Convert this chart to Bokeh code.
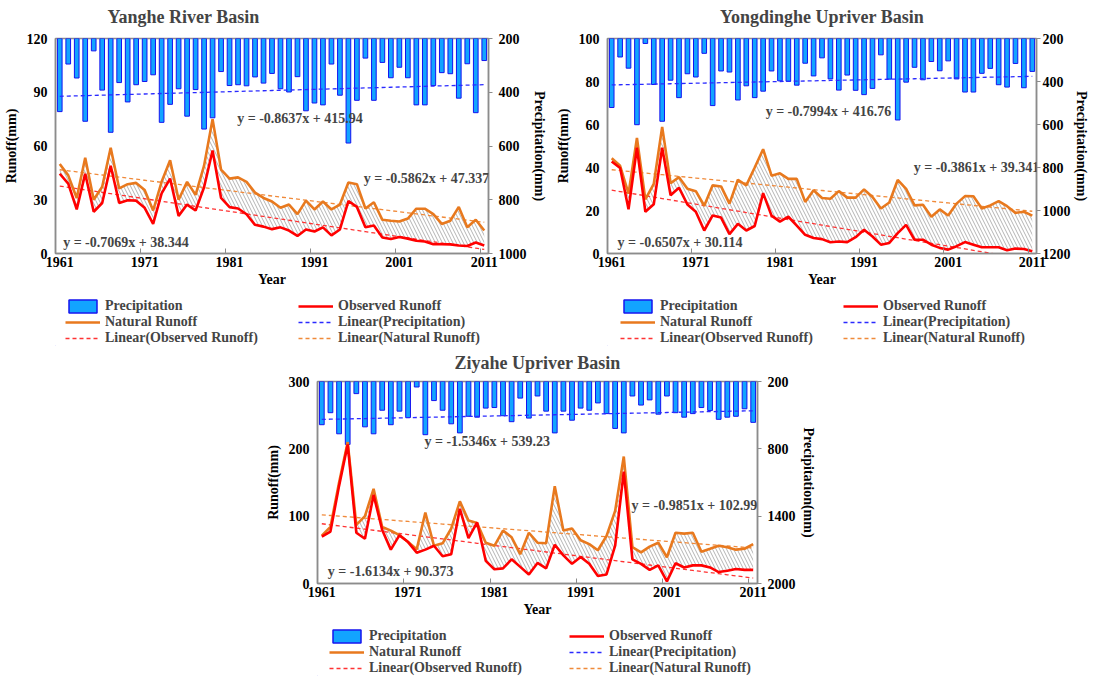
import numpy as np
from bokeh.plotting import figure
from bokeh.models import (Range1d, LinearAxis, FixedTicker, Legend, LegendItem,
                          Label, Spacer, Title)
from bokeh.layouts import column, row
from bokeh.embed import file_html
from bokeh.resources import INLINE

years = list(range(1961, 2012))
year_ticks = [1961, 1971, 1981, 1991, 2001, 2011]

# ---------------- Yanghe River Basin ----------------
yanghe_precip = [472, 295, 347, 508, 246, 392, 549, 364, 436, 372,
                 360, 335, 512, 445, 387, 489, 390, 537, 495, 323,
                 375, 372, 376, 343, 366, 330, 387, 399, 342, 469,
                 440, 447, 295, 411, 589, 430, 273, 430, 289, 346,
                 307, 346, 447, 447, 375, 327, 331, 422, 294, 476,
                 282]
yanghe_natural = [50, 43.6, 31, 53.5, 30, 37.3, 59, 36.3, 38.7, 39.4,
                  35.4, 24, 40, 52, 30, 40, 32.7, 49, 75, 46.8,
                  41.8, 42.5, 40, 34, 31, 29, 25.5, 27.3, 22, 29.5,
                  24.6, 29, 24.6, 27.3, 39.6, 38.7, 25.1, 28.6, 18.8, 18.3,
                  17.9, 19.5, 25, 25, 22, 16.5, 18.3, 26, 14.6, 18.8,
                  12.8]
yanghe_observed = [44.5, 39, 24.6, 44.5, 23.3, 28.2, 49, 28.2, 29.7, 29.5,
                   25.5, 16.5, 33.6, 41.8, 21, 27.3, 24, 37, 57.5, 31,
                   25.9, 25.1, 21.9, 16, 15, 13.6, 14.6, 12.8, 9.8, 13.4,
                   12.3, 14.6, 10.1, 13.4, 29.3, 26, 14.6, 15.6, 8.9, 8.1,
                   9.2, 8.3, 7.1, 6.7, 5.2, 5.2, 5.1, 4.5, 4.2, 6.1,
                   4.5]
yanghe_fit_precip = [-0.8637, 415.94]
yanghe_fit_natural = [-0.5862, 47.337]
yanghe_fit_observed = [-0.7069, 38.344]

# ---------------- Yongdinghe Upriver Basin ----------------
yongding_precip = [521, 286, 338, 601, 223, 414, 585, 394, 475, 364,
                   379, 269, 512, 351, 356, 486, 420, 475, 445, 351,
                   397, 399, 417, 315, 374, 290, 388, 440, 370, 441,
                   461, 432, 276, 389, 579, 403, 334, 392, 307, 350,
                   304, 388, 449, 449, 362, 339, 415, 426, 316, 429,
                   353]
yongding_natural = [44.3, 40.8, 27.8, 53.8, 25.2, 32.4, 58.9, 32.7, 35.5, 30.1,
                    29, 22.2, 31.7, 31.2, 23.2, 34.3, 31.7, 40, 48.5, 36.2,
                    37.3, 34.7, 34.7, 24, 29.4, 25.8, 25.5, 29, 26, 26,
                    29.8, 26.3, 20.9, 23.7, 34.2, 30.1, 22.4, 22.7, 17.1, 20.5,
                    17.7, 23.2, 26.7, 26.6, 20.9, 22.4, 24.4, 22, 18.9, 19.4,
                    17.6]
yongding_observed = [42.8, 39.8, 20.6, 49.2, 19.4, 22.9, 49.2, 27.1, 30.6, 22.8,
                     19.4, 10.7, 17.7, 16.7, 9, 13.8, 10.7, 12.8, 28.1, 17.6,
                     14.8, 17.1, 13, 8.7, 7.2, 6.7, 5.2, 5.6, 5.3, 7.6,
                     11, 7.9, 4.1, 4.9, 9.5, 13.3, 6.4, 6.4, 4.1, 2.6,
                     1.8, 3.4, 5.3, 4.1, 2.9, 2.9, 2.9, 1.5, 2.3, 2.1,
                     1.1]
yongding_fit_precip = [-0.7994, 416.76]
yongding_fit_natural = [-0.3861, 39.341]
yongding_fit_observed = [-0.6507, 30.114]

# ---------------- Ziyahe Upriver Basin ----------------
ziya_precip = [585, 478, 666, 761, 308, 604, 666, 456, 585, 464,
               521, 249, 674, 370, 456, 577, 658, 510, 518, 437,
               432, 505, 558, 348, 526, 329, 464, 658, 464, 545,
               437, 456, 391, 486, 618, 658, 329, 410, 364, 491,
               329, 478, 518, 486, 432, 459, 537, 518, 510, 443,
               564]
ziya_natural = [71, 84, 150, 210, 87, 100, 140.5, 84, 78.6, 71.8,
                61.5, 50.7, 105.5, 56, 59.7, 81.7, 122, 93.4, 89.8, 60.6,
                56, 78.6, 68.7, 43.6, 75.4, 60.6, 59.7, 144.6, 78.6, 81.7,
                64.2, 58.4, 49.4, 70.5, 107.8, 188.6, 53.9, 46.3, 54.8, 60.6,
                39, 75.4, 74.1, 75.4, 47.2, 51.6, 56.1, 53.9, 50.3, 51.6,
                58.4]
ziya_observed = [69.6, 77.2, 145, 206.5, 75.4, 66.5, 131.6, 79.5, 50.3, 71.8,
                 61.5, 45.8, 50.3, 56, 40.4, 43.6, 111, 67.4, 90.7, 33.7,
                 21.1, 22.5, 35.9, 24.7, 13.5, 30.5, 22.5, 57.5, 41.8, 29.2,
                 39.5, 29.2, 11.2, 13.5, 56.1, 166, 35.9, 29.2, 20.2, 26.9,
                 3.1, 30.1, 23.8, 26.9, 26.9, 23.8, 17, 18.9, 21.6, 20.2,
                 20.2]
ziya_fit_precip = [-1.5346, 539.23]
ziya_fit_natural = [-0.9851, 102.99]
ziya_fit_observed = [-1.6134, 90.373]

FONT = "Liberation Serif"
GREY = "#8c8c8c"
C_BAR = "#12A4FF"
C_BAR_LINE = "#1414F0"
C_OBS = "#FF0000"
C_NAT = "#E8791E"
C_FIT_P = "#2a2aff"
C_FIT_O = "#ff3333"
C_FIT_N = "#f08a3a"


def fit_line(coef):
    idx = np.arange(1, len(years) + 1)
    return coef[0] * idx + coef[1]


def panel(title, precip, natural, observed, fp, fn, fo, yticks, pticks,
          eqs, width, height, title_align, title_offset, bl, br, r_std,
          r_lab_std, top_pad):
    p = figure(width=width, height=height,
               x_range=Range1d(1960.5, 2011.5),
               y_range=Range1d(yticks[0], yticks[-1]),
               output_backend="svg", toolbar_location=None,
               min_border_left=bl, min_border_right=br,
               min_border_top=5, min_border_bottom=5,
               background_fill_color="white", border_fill_color="white")
    p.title.text = title
    p.title.text_font = FONT
    p.title.text_font_size = "18px"
    p.title.text_font_style = "bold"
    p.title.align = title_align
    p.title.offset = title_offset
    p.title.standoff = 9
    # empty spacer line above the title
    p.add_layout(Title(text=" ", text_font_size=top_pad, standoff=0), "above")
    p.xgrid.visible = False
    p.ygrid.visible = False
    p.outline_line_color = GREY
    p.outline_line_width = 1.5

    p.extra_y_ranges = {"precip": Range1d(pticks[-1], pticks[0])}

    p.vbar(x=years, top=pticks[0], bottom=precip, width=0.55,
           y_range_name="precip", fill_color=C_BAR,
           line_color=C_BAR_LINE, line_width=1)
    p.varea(x=years, y1=observed, y2=natural, fill_alpha=0,
            hatch_pattern="\\", hatch_color="#b4b4b4", hatch_scale=7,
            hatch_weight=1)
    p.line(years, fit_line(fp), y_range_name="precip",
           line_color=C_FIT_P, line_dash="4 3", line_width=1.3)
    p.line(years, fit_line(fn), line_color=C_FIT_N,
           line_dash="4 3", line_width=1.3)
    p.line(years, fit_line(fo), line_color=C_FIT_O,
           line_dash="4 3", line_width=1.3)
    p.line(years, natural, line_color=C_NAT, line_width=2.6)
    p.line(years, observed, line_color=C_OBS, line_width=2.6)

    xa = p.xaxis[0]
    xa.ticker = FixedTicker(ticks=year_ticks,
                            minor_ticks=[1970.5, 1980.5, 1990.5, 2000.5, 2010.5])
    xa.major_tick_in = 0
    xa.major_tick_out = 0
    xa.minor_tick_in = 5
    xa.minor_tick_out = 0
    xa.minor_tick_line_color = GREY
    xa.axis_label = "Year"
    xa.major_label_standoff = 3
    xa.axis_label_standoff = 2

    ya = p.yaxis[0]
    ya.ticker = FixedTicker(ticks=yticks)
    ya.axis_label = "Runoff(mm)"
    ya.major_tick_in = 0
    ya.major_tick_out = 0
    ya.minor_tick_line_color = None
    ya.major_label_standoff = 8
    ya.axis_label_standoff = 5

    ra = LinearAxis(y_range_name="precip", ticker=FixedTicker(ticks=pticks),
                    axis_label="Precipitation(mm)")
    ra.major_tick_in = 0
    ra.major_tick_out = 4
    ra.minor_tick_line_color = None
    ra.major_label_standoff = r_std
    ra.axis_label_standoff = r_lab_std
    p.add_layout(ra, "right")

    for ax in (xa, ya, ra):
        ax.axis_line_color = GREY
        ax.axis_line_width = 1.5
        ax.major_tick_line_color = GREY
        ax.major_label_text_font = FONT
        ax.major_label_text_font_style = "bold"
        ax.major_label_text_font_size = "14px"
        ax.major_label_text_color = "black"
        ax.axis_label_text_font = FONT
        ax.axis_label_text_font_style = "bold"
        ax.axis_label_text_font_size = "14px"
        ax.axis_label_text_color = "black"

    for (ex, ey, txt) in eqs:
        p.add_layout(Label(x=ex, y=ey, text=txt, text_font=FONT,
                           text_font_style="bold", text_font_size="14px",
                           text_baseline="middle", text_align="left"))
    return p


def legend_fig(width, height, x1, x2, row_h):
    q = figure(width=width, height=height, x_range=Range1d(0, 1),
               y_range=Range1d(0, 1), output_backend="svg", title=None,
               toolbar_location=None, x_axis_location=None,
               y_axis_location=None, min_border=0, min_border_top=0,
               min_border_bottom=0,
               background_fill_color="white", border_fill_color="white")
    q.outline_line_color = None
    q.xgrid.visible = False
    q.ygrid.visible = False
    # off-range stand-ins that only carry the legend styles
    hx, hy = [-5, -4], [-5, -5]
    bars = q.vbar(x=[-5], top=[-5], bottom=[-6], width=0.5, fill_color=C_BAR,
                  line_color=C_BAR_LINE, line_width=1.5)
    obs = q.line(hx, hy, line_color=C_OBS, line_width=2.6)
    nat = q.line(hx, hy, line_color=C_NAT, line_width=2.6)
    fitp = q.line(hx, hy, line_color=C_FIT_P, line_dash="4 3", line_width=1.3)
    fito = q.line(hx, hy, line_color=C_FIT_O, line_dash="4 3", line_width=1.3)
    fitn = q.line(hx, hy, line_color=C_FIT_N, line_dash="4 3", line_width=1.3)
    cols = [
        ([("Precipitation", bars), ("Natural Runoff", nat),
          ("Linear(Observed Runoff)", fito)], x1),
        ([("Observed Runoff", obs), ("Linear(Precipitation)", fitp),
          ("Linear(Natural Runoff)", fitn)], x2),
    ]
    for items, xpos in cols:
        leg = Legend(items=[LegendItem(label=l, renderers=[r]) for l, r in items],
                     location=(xpos, 0), orientation="vertical",
                     glyph_width=35, glyph_height=row_h, spacing=0,
                     padding=0, margin=0, border_line_alpha=0,
                     background_fill_alpha=0, label_standoff=5,
                     label_text_font=FONT, label_text_font_style="bold",
                     label_text_font_size="14px")
        q.add_layout(leg, "center")
    return q


p1 = panel("Yanghe River Basin", yanghe_precip, yanghe_natural, yanghe_observed,
           yanghe_fit_precip, yanghe_fit_natural, yanghe_fit_observed,
           [0, 30, 60, 90, 120], [200, 400, 600, 800, 1000],
           [(1981.9, 75.3, "y = -0.8637x + 415.94"),
            (1996.8, 42, "y = -0.5862x + 47.337"),
            (1961.4, 6, "y = -0.7069x + 38.344")],
           552, 289, "left", 52, 52, 64, 6, 2, "4px")
l1 = legend_fig(552, 57, 10, 243, 16)

p2 = panel("Yongdinghe Upriver Basin", yongding_precip, yongding_natural,
           yongding_observed, yongding_fit_precip, yongding_fit_natural,
           yongding_fit_observed,
           [0, 20, 40, 60, 80, 100], [200, 400, 600, 800, 1000, 1200],
           [(1979.3, 66, "y = -0.7994x + 416.76"),
            (1996.9, 40, "y = -0.3861x + 39.341"),
            (1961.7, 5, "y = -0.6507x + 30.114")],
           539, 289, "center", 0, 52, 46, 2, 0, "4px")
l2 = legend_fig(539, 57, 13, 236, 16)

p3 = panel("Ziyahe Upriver Basin", ziya_precip, ziya_natural, ziya_observed,
           ziya_fit_precip, ziya_fit_natural, ziya_fit_observed,
           [0, 100, 200, 300], [200, 800, 1400, 2000],
           [(1972.9, 211, "y = -1.5346x + 539.23"),
            (1996.9, 116, "y = -0.9851x + 102.99"),
            (1961.7, 17.5, "y = -1.6134x + 90.373")],
           559, 273, "center", 0, 52, 64, 6, 2, "2px")
l3 = legend_fig(559, 57, 12, 252, 16)

layout = column(row(column(p1, l1), column(p2, l2)),
                row(Spacer(width=262, height=10), column(p3, l3)))

open("out.html", "w").write(file_html(layout, INLINE))
